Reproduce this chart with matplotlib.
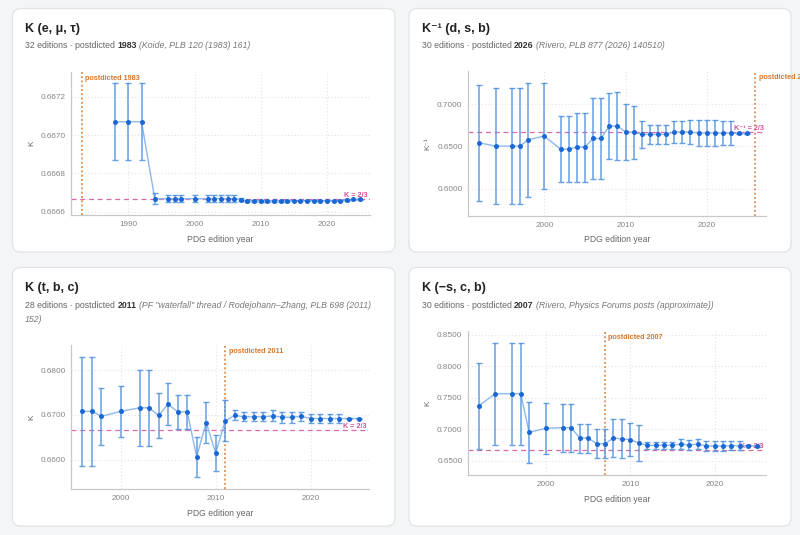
import matplotlib
matplotlib.use("Agg")
import matplotlib.pyplot as plt
from matplotlib.patches import FancyBboxPatch

plt.rcParams['font.family'] = ['Liberation Sans', 'DejaVu Sans']

# ---------------- data ----------------
titles = ["K (e, μ, τ)", "K⁻¹ (d, s, b)", "K (t, b, c)", "K (−s, c, b)"]
ylabels = ["K", "K⁻¹", "K", "K"]
ref_labels = ["K = 2/3", "K⁻¹ = 2/3", "K = 2/3", "K = 2/3"]
n_editions = ["32 editions", "30 editions", "28 editions", "30 editions"]
post_years = [1983, 2026, 2011, 2007]
sources = ["(Koide, PLB 120 (1983) 161)",
           "(Rivero, PLB 877 (2026) 140510)",
           "(PF \"waterfall\" thread / Rodejohann–Zhang, PLB 698 (2011)|152)",
           "(Rivero, Physics Forums posts (approximate))"]

years_lep = [1988, 1990, 1992, 1994, 1996, 1997, 1998, 2000, 2002, 2003, 2004,
             2005, 2006, 2007, 2008, 2009, 2010, 2011, 2012, 2013, 2014, 2015,
             2016, 2017, 2018, 2019, 2020, 2021, 2022, 2023, 2024, 2025]
k_lep = [0.66707, 0.66707, 0.66707, 0.666668, 0.666668, 0.666668, 0.666668,
         0.666668, 0.666668, 0.666668, 0.666668, 0.666668, 0.666668, 0.666663,
         0.666656, 0.666656, 0.666656, 0.666656, 0.666656, 0.666656, 0.666656,
         0.666658, 0.666658, 0.666658, 0.666658, 0.666658, 0.666658, 0.666658,
         0.666658, 0.666661, 0.666665, 0.666665]
e_lep = [0.00020, 0.00020, 0.00020, 0.000030, 0.000018, 0.000018, 0.000018,
         0.000018, 0.000018, 0.000018, 0.000018, 0.000018, 0.000018, 0.000008,
         0.000006, 0.000005, 0.000005, 0.000005, 0.000004, 0.000004, 0.000004,
         0.000003, 0.000003, 0.000003, 0.000003, 0.000003, 0.000003, 0.000003,
         0.000003, 0.000003, 0.000003, 0.000003]

years_dsb = [1992, 1994, 1996, 1997, 1998, 2000, 2002, 2003, 2004, 2005, 2006,
             2007, 2008, 2009, 2010, 2011, 2012, 2013, 2014, 2015, 2016, 2017,
             2018, 2019, 2020, 2021, 2022, 2023, 2024, 2025]
k_dsb = [0.6543, 0.6504, 0.6504, 0.6504, 0.6579, 0.6624, 0.6468, 0.6468,
         0.6492, 0.6492, 0.6595, 0.6595, 0.6742, 0.6742, 0.6672, 0.6668,
         0.6643, 0.6643, 0.6643, 0.6643, 0.6672, 0.6672, 0.6672, 0.6660,
         0.6660, 0.6660, 0.6658, 0.6658, 0.6655, 0.6655]
e_dsb = [0.0687, 0.0685, 0.0685, 0.0685, 0.0675, 0.0630, 0.0395, 0.0395,
         0.0410, 0.0410, 0.0480, 0.0480, 0.0390, 0.0400, 0.0335, 0.0315,
         0.0160, 0.0117, 0.0117, 0.0117, 0.0134, 0.0134, 0.0140, 0.0155,
         0.0155, 0.0155, 0.0140, 0.0140, 0.0008, 0.0008]

years_tbc = [1996, 1997, 1998, 2000, 2002, 2003, 2004, 2005, 2006, 2007, 2008,
             2009, 2010, 2011, 2012, 2013, 2014, 2015, 2016, 2017, 2018, 2019,
             2020, 2021, 2022, 2023, 2024, 2025]
k_tbc = [0.6708, 0.6708, 0.6697, 0.6708, 0.6716, 0.6716, 0.6699, 0.6724,
         0.6707, 0.6707, 0.6607, 0.6683, 0.6615, 0.6687, 0.6699, 0.6696,
         0.6696, 0.6696, 0.6698, 0.6695, 0.6695, 0.6697, 0.6692, 0.6692,
         0.6692, 0.6692, 0.6692, 0.6692]
e_tbc = [0.0122, 0.0122, 0.0064, 0.0056, 0.0085, 0.0085, 0.0051, 0.0047,
         0.0038, 0.0038, 0.0045, 0.0045, 0.0040, 0.0046, 0.0011, 0.0010,
         0.0010, 0.0010, 0.0012, 0.0012, 0.0012, 0.0010, 0.0010, 0.0010,
         0.0010, 0.0010, 0.0002, 0.0002]

years_scb = [1992, 1994, 1996, 1997, 1998, 2000, 2002, 2003, 2004, 2005, 2006,
             2007, 2008, 2009, 2010, 2011, 2012, 2013, 2014, 2015, 2016, 2017,
             2018, 2019, 2020, 2021, 2022, 2023, 2024, 2025]
k_scb = [0.7370, 0.7566, 0.7566, 0.7566, 0.6952, 0.7016, 0.7026, 0.7026,
         0.6862, 0.6862, 0.6772, 0.6772, 0.6862, 0.6847, 0.6836, 0.6783,
         0.6746, 0.6746, 0.6746, 0.6746, 0.6767, 0.6750, 0.6767, 0.6735,
         0.6735, 0.6735, 0.6740, 0.6740, 0.6740, 0.6735]
e_scb = [0.0680, 0.0810, 0.0810, 0.0810, 0.0480, 0.0405, 0.0380, 0.0380,
         0.0230, 0.0230, 0.0230, 0.0230, 0.0300, 0.0310, 0.0257, 0.0280,
         0.0056, 0.0056, 0.0056, 0.0056, 0.0080, 0.0080, 0.0080, 0.0085,
         0.0085, 0.0085, 0.0075, 0.0075, 0.0010, 0.0010]

series = [(years_lep, k_lep, e_lep), (years_dsb, k_dsb, e_dsb),
          (years_tbc, k_tbc, e_tbc), (years_scb, k_scb, e_scb)]

yticks = [[0.6666, 0.6668, 0.6670, 0.6672],
          [0.6000, 0.6500, 0.7000],
          [0.6600, 0.6700, 0.6800],
          [0.6500, 0.7000, 0.7500, 0.8000, 0.8500]]
xticks = [[1990, 2000, 2010, 2020], [2000, 2010, 2020],
          [2000, 2010, 2020], [2000, 2010, 2020]]
xlims = [(1981.35, 2026.5), (1990.6, 2027.3), (1994.8, 2026.1), (1990.75, 2026.1)]
ylims = [(0.666583, 0.66733), (0.5674, 0.7396), (0.6535, 0.6856), (0.6275, 0.856)]

# ---------------- layout (pixels) ----------------
W, H = 800, 535
fig = plt.figure(figsize=(W / 100, H / 100), dpi=100, facecolor='#f4f5f7')
renderer = fig.canvas.get_renderer()

cards = [(12.5, 8.5, 395, 252), (409, 8.5, 791, 252),
         (12.5, 267.5, 395, 526), (409, 267.5, 791, 526)]
axes_px = [(71, 72, 370, 215), (468, 71, 766, 216),
           (71, 345, 369, 489), (468, 331, 766, 475)]
title_pos = [(25, 29), (421.5, 29), (25, 287.5), (421.5, 287.5)]
sub_pos = [(25, 46), (421.5, 46), (25, 305.5), (421.5, 305.5)]
xlabel_y = [240, 240, 513.5, 499.5]
ylabel_x = [32, 428, 32, 428]

for (x0, y0, x1, y1) in cards:
    p = FancyBboxPatch((x0 / 100, (H - y1) / 100), (x1 - x0) / 100, (y1 - y0) / 100,
                       boxstyle="round,pad=0,rounding_size=0.08",
                       transform=fig.dpi_scale_trans, facecolor='white',
                       edgecolor='#e1e3e8', linewidth=0.9, zorder=-5)
    fig.patches.append(p)


def fx(x):
    return x / W


def fy(y):
    return 1 - y / H


def rich(x, y, parts, size):
    for txt, kw in parts:
        t = fig.text(fx(x), fy(y), txt, ha='left', va='center', fontsize=size, **kw)
        bb = t.get_window_extent(renderer)
        x = bb.x1 + size * 0.28 * 100 / 72


LINE = '#8cb8ec'
ERR = '#4d8fe0'
MARK = '#1b67d4'
ORANGE = '#d9782c'
PINK = '#d6509a'
GRID = '#e3e3e3'

for i in range(4):
    x0, y0, x1, y1 = axes_px[i]
    ax = fig.add_axes([fx(x0), fy(y1), (x1 - x0) / W, (y1 - y0) / H])
    ax.set_facecolor('none')
    yrs, ks, es = series[i]
    ax.plot(yrs, ks, color=LINE, lw=1.0, zorder=2)
    ax.errorbar(yrs, ks, yerr=es, fmt='none', ecolor=ERR, elinewidth=1.1,
                capsize=2.2, capthick=1.0, alpha=0.85, zorder=3)
    ax.plot(yrs, ks, 'o', color=MARK, ms=3.6, zorder=4, markeredgewidth=0)
    ax.axhline(2 / 3, color=PINK, lw=0.9, ls=(0, (4, 3)), alpha=0.85, zorder=1)
    ax.axvline(post_years[i], color=ORANGE, lw=1.1, ls=(0, (1.2, 1.6)), zorder=1)
    ax.set_xlim(*xlims[i])
    ax.set_ylim(*ylims[i])
    ax.set_xticks(xticks[i])
    ax.set_yticks(yticks[i])
    ax.set_yticklabels([f"{v:.4f}" for v in yticks[i]])
    ax.tick_params(length=0, labelsize=5.9, labelcolor='#858585', pad=4)
    ax.grid(True, color=GRID, lw=0.8, ls=(0, (1, 2)))
    ax.set_axisbelow(True)
    for s in ['top', 'right']:
        ax.spines[s].set_visible(False)
    for s in ['left', 'bottom']:
        ax.spines[s].set_color('#c8c8c8')
        ax.spines[s].set_linewidth(0.9)
    # labels on lines
    ax.text(0.992, 2 / 3, ref_labels[i], transform=ax.get_yaxis_transform(),
            ha='right', va='bottom', color=PINK, fontsize=5.2, fontweight='bold',
            zorder=3)
    ax.annotate(f"postdicted {post_years[i]}", xy=(post_years[i], 1.0),
                xycoords=ax.get_xaxis_transform(), xytext=(2.5, -2.5),
                textcoords='offset points', ha='left', va='top',
                color=ORANGE, fontsize=5.2, fontweight='bold', annotation_clip=False,
                zorder=6)
    # titles
    fig.text(fx(title_pos[i][0]), fy(title_pos[i][1]), titles[i], ha='left',
             va='center', fontsize=9.0, fontweight='bold', color='#222222')
    src = sources[i].split('|')
    rich(sub_pos[i][0], sub_pos[i][1],
         [(f"{n_editions[i]} · postdicted", dict(color='#666666')),
          (str(post_years[i]), dict(color='#333333', fontweight='bold')),
          (src[0], dict(color='#777777', style='italic'))], 6.3)
    if len(src) > 1:
        fig.text(fx(sub_pos[i][0]), fy(sub_pos[i][1] + 13.8), src[1], ha='left',
                 va='center', fontsize=6.3, color='#777777', style='italic')
    fig.text(fx((x0 + x1) / 2), fy(xlabel_y[i]), "PDG edition year", ha='center',
             va='center', fontsize=6.2, color='#666666')
    fig.text(fx(ylabel_x[i]), fy((y0 + y1) / 2), ylabels[i], ha='center',
             va='center', rotation=90, fontsize=6.0, color='#666666')

fig.savefig("out.png", dpi=100, facecolor=fig.get_facecolor())
